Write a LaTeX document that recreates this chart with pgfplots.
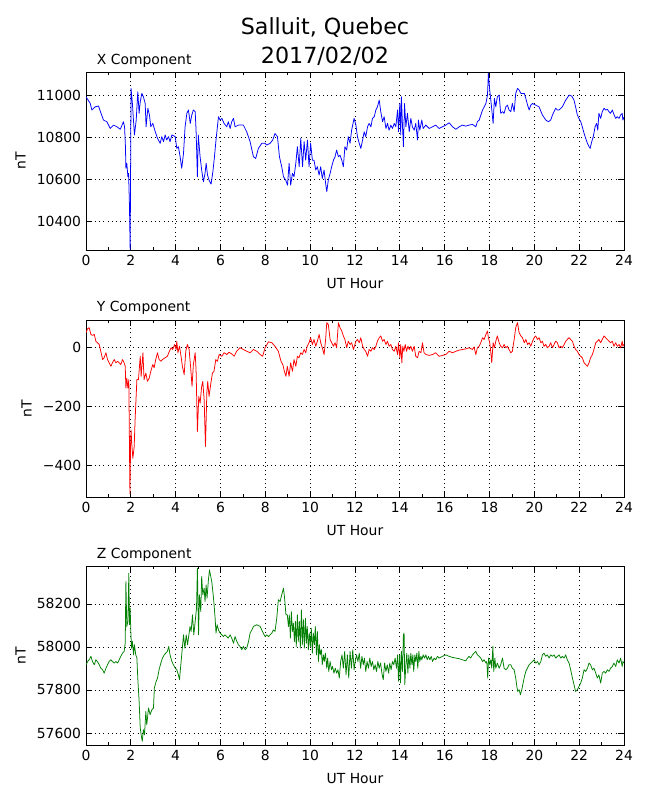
\documentclass[border=0pt]{standalone}
\usepackage{fontspec}
\setmainfont{DejaVu Sans}
\usepackage{pgfplots}
\pgfplotsset{compat=1.18}
\definecolor{mplgreen}{RGB}{0,128,0}
\pgfplotsset{
  magstyle/.style={
    scale only axis,
    width=387.36pt,
    anchor=south west,
    xmin=0, xmax=24,
    xtick={0,2,...,24},
    minor x tick num=1,
    major tick length=4.3pt,
    minor tick length=2.2pt,
    tick align=inside,
    tick style={black, line width=0.5pt},
    scaled y ticks=false,
    /pgf/number format/assume math mode=true,
    ticklabel style={font=\fontsize{10}{12}\selectfont},
    label style={font=\fontsize{10}{12}\selectfont},
    xlabel={UT Hour},
    ylabel={nT},
    ymajorgrids, xmajorgrids,
    major grid style={black, line width=0.5pt, dash pattern=on 0.7pt off 2.4pt},
    axis line style={black, line width=0.7pt},
    every axis plot/.append style={line width=0.55pt, line join=round, no markers},
    xlabel style={yshift=-2.5pt},
    ylabel style={yshift=1.2pt},
  }
}
\begin{document}
\begin{tikzpicture}
\path[use as bounding box] (0,0) rectangle (468pt,576pt);
\node[anchor=base, font=\fontsize{16}{19}\selectfont] at (234pt,551pt) {Salluit, Quebec};
\node[anchor=base, font=\fontsize{16}{19}\selectfont] at (234pt,530.5pt) {2017/02/02};

% ---------------- X component
\begin{axis}[magstyle, at={(61.92pt,396pt)}, height=128.16pt,
  ymin=10262, ymax=11110,
  ytick={10400,10600,10800,11000},
  yticklabels={10400,10600,10800,11000}]
\addplot[blue] coordinates {
(0.00,10992)(0.19,10960)(0.26,10929)(0.41,10944)(0.56,10948)(0.63,10925)(0.78,10881)(0.93,10873)
(1.08,10841)(1.23,10857)(1.38,10849)(1.53,10837)(1.67,10873)(1.72,10849)(1.76,10754)(1.78,10651)
(1.82,10675)(1.87,10611)(1.90,10627)(1.94,10468)(1.97,10265)(2.01,11032)(2.07,10960)(2.16,10810)
(2.24,10881)(2.31,11016)(2.37,10913)(2.42,10968)(2.49,11008)(2.56,10992)(2.64,10960)(2.68,10849)
(2.76,10937)(2.83,10905)(2.89,10849)(2.98,10865)(3.09,10825)(3.19,10794)(3.31,10770)(3.38,10802)
(3.46,10778)(3.53,10810)(3.60,10786)(3.68,10802)(3.75,10778)(3.83,10810)(3.98,10802)(4.05,10746)
(4.12,10754)(4.20,10706)(4.27,10651)(4.35,10722)(4.42,10849)(4.50,10913)(4.57,10929)(4.65,10865)
(4.72,10905)(4.79,10929)(4.87,10921)(4.91,10833)(4.97,10611)(5.01,10810)(5.09,10706)(5.16,10643)
(5.24,10587)(5.31,10627)(5.36,10675)(5.42,10619)(5.49,10595)(5.58,10576)(5.66,10635)(5.73,10706)
(5.80,10786)(5.91,10897)(5.98,10881)(6.06,10889)(6.16,10865)(6.28,10849)(6.35,10873)(6.43,10841)
(6.50,10873)(6.58,10889)(6.65,10849)(6.80,10857)(7.02,10857)(7.17,10825)(7.32,10778)(7.47,10706)
(7.57,10698)(7.69,10746)(7.84,10770)(7.99,10770)(8.06,10762)(8.21,10770)(8.33,10786)(8.43,10817)
(8.54,10802)(8.63,10706)(8.73,10659)(8.81,10611)(8.91,10595)(8.99,10571)(9.06,10675)(9.13,10571)
(9.21,10627)(9.28,10611)(9.36,10675)(9.43,10754)(9.51,10659)(9.58,10794)(9.66,10659)(9.73,10778)
(9.80,10690)(9.88,10786)(9.95,10659)(10.02,10770)(10.10,10690)(10.17,10690)(10.25,10643)(10.32,10659)
(10.40,10619)(10.47,10659)(10.54,10603)(10.62,10643)(10.69,10579)(10.74,10540)(10.81,10595)(10.89,10627)
(10.96,10659)(11.04,10690)(11.11,10706)(11.18,10738)(11.26,10706)(11.33,10714)(11.41,10690)(11.48,10659)
(11.55,10754)(11.63,10738)(11.70,10802)(11.78,10770)(11.85,10833)(11.96,10889)
(12.04,10857)(12.11,10802)(12.19,10770)(12.26,10746)(12.34,10786)(12.41,10825)(12.48,10802)(12.56,10849)
(12.63,10865)(12.71,10849)(12.78,10889)(12.86,10897)(12.93,10929)(13.00,10944)(13.08,10976)(13.15,10921)
(13.23,10873)(13.30,10897)(13.38,10841)(13.45,10865)(13.52,10833)(13.60,10857)(13.67,10841)(13.75,10865)
(13.82,10849)(13.90,10929)(13.94,10825)(14.00,10960)(14.04,10810)(14.07,10992)(14.12,10849)(14.16,10754)
(14.21,10960)(14.27,10849)(14.34,10913)(14.42,10825)(14.49,10889)(14.56,10849)(14.64,10833)(14.71,10865)
(14.79,10786)(14.83,10881)(14.89,10833)(14.98,10881)(15.04,10841)(15.16,10857)(15.31,10841)(15.46,10849)
(15.60,10857)(15.75,10841)(15.90,10849)(16.05,10857)(16.20,10868)(16.35,10849)(16.50,10837)(16.65,10849)
(16.79,10857)(16.94,10852)(17.09,10857)(17.24,10860)(17.39,10849)(17.46,10873)(17.54,10881)(17.69,10929)
(17.84,10960)(17.91,11000)(17.95,11103)(18.01,11024)(18.09,10944)(18.16,10865)(18.22,10984)(18.28,10944)
(18.35,10992)(18.43,11000)(18.50,10913)(18.58,10921)(18.65,10913)(18.73,10944)(18.80,10952)(18.87,10929)
(18.95,10921)(19.02,10960)(19.10,10921)(19.17,11008)(19.25,11032)(19.32,11024)(19.40,11008)(19.47,11008)
(19.55,11008)(19.62,10984)(19.70,10952)(19.77,10929)(19.84,10952)(19.92,10960)(20.06,10952)(20.21,10944)
(20.36,10905)(20.51,10881)(20.63,10873)(20.73,10881)(20.81,10905)(20.95,10937)(21.03,10929)(21.10,10929)
(21.25,10944)(21.40,10976)(21.55,11000)(21.67,10995)(21.77,10976)(21.84,10944)(21.92,10905)(21.99,10889)
(22.07,10873)(22.14,10849)(22.22,10817)(22.29,10794)(22.37,10770)(22.44,10754)(22.49,10746)(22.56,10778)
(22.63,10802)(22.71,10849)(22.78,10865)(22.83,10833)(22.88,10913)(22.96,10889)(23.03,10921)(23.11,10937)
(23.18,10929)(23.26,10932)(23.33,10921)(23.40,10913)(23.48,10929)(23.56,10905)(23.63,10889)(23.70,10897)
(23.78,10889)(23.85,10905)(23.92,10913)(23.95,10881)(24.00,10895)
};
\end{axis}
\node[anchor=base west, font=\fontsize{10}{12}\selectfont] at (66.24pt,529.2pt) {X Component};

% ---------------- Y component
\begin{axis}[magstyle, at={(61.92pt,218.16pt)}, height=127.44pt,
  ymin=-508, ymax=92,
  ytick={-400,-200,0},
  yticklabels={−400,−200,0}]
\addplot[red] coordinates {
(0.00,49)(0.07,62)(0.14,66)(0.22,43)(0.29,40)(0.37,43)(0.44,20)(0.51,15)(0.59,9)(0.66,-14)
(0.74,-42)(0.81,-36)(0.89,-19)(0.96,-42)(1.03,-53)(1.11,-65)(1.18,-53)(1.26,-42)(1.33,-53)(1.41,-48)
(1.48,-53)(1.55,-59)(1.63,-42)(1.70,-53)(1.75,-65)(1.78,-139)(1.82,-105)(1.87,-139)(1.91,-110)(1.96,-497)
(1.99,-326)(2.01,-281)(2.04,-326)(2.09,-377)(2.15,-337)(2.19,-247)(2.27,-110)(2.34,-110)(2.42,-31)(2.46,-99)
(2.54,-19)(2.59,-110)(2.67,-88)(2.74,-116)(2.82,-105)(2.89,-82)(2.98,-59)(3.04,-70)(3.11,-42)(3.19,-19)
(3.26,-42)(3.34,-48)(3.41,-42)(3.53,-36)(3.63,-31)(3.72,-14)(3.80,-2)(3.87,-8)(3.95,9)(4.02,-8)
(4.05,20)(4.10,-19)(4.17,3)(4.24,-31)(4.30,-65)(4.38,-93)(4.45,-14)(4.52,9)(4.60,-8)(4.67,-70)
(4.73,-133)(4.79,-59)(4.87,-19)(4.91,-76)(4.97,-286)(5.03,-167)(5.09,-190)(5.16,-133)(5.21,-116)(5.27,-178)
(5.33,-337)(5.39,-156)(5.43,-116)(5.49,-167)(5.57,-122)(5.64,-88)(5.71,-82)(5.79,-42)(5.86,-48)(5.94,-25)
(6.06,-31)(6.16,-19)(6.28,-25)(6.38,-17)(6.50,-23)(6.61,-31)(6.72,-14)(6.87,-2)(7.02,-8)(7.17,-14)
(7.32,-19)(7.47,-8)(7.62,-14)(7.77,-25)(7.88,-31)(7.99,-2)(8.14,18)(8.29,15)(8.43,3)(8.58,-14)
(8.70,-48)(8.78,-59)(8.85,-82)(8.92,-99)(8.98,-65)(9.06,-99)(9.13,-53)(9.21,-82)(9.28,-42)(9.36,-65)
(9.43,-31)(9.50,-36)(9.58,-19)(9.65,-25)(9.73,-8)(9.80,-19)(9.87,3)(9.95,15)(10.02,32)(10.10,9)
(10.17,26)(10.25,3)(10.32,20)(10.40,43)(10.47,15)(10.54,-2)(10.62,-25)(10.69,26)(10.74,83)(10.81,77)
(10.89,26)(10.96,15)(11.04,3)(11.11,15)(11.18,-2)(11.26,83)(11.33,66)(11.41,55)(11.48,38)(11.55,26)
(11.63,-2)(11.70,20)(11.78,9)(11.85,15)(11.93,-8)
(12.04,20)(12.11,26)(12.19,15)(12.26,32)(12.34,3)(12.41,-8)(12.48,-14)(12.56,-31)(12.63,-8)(12.71,-14)
(12.78,-2)(12.86,-8)(12.93,3)(13.00,20)(13.08,32)(13.15,38)(13.23,20)(13.30,26)(13.38,9)(13.45,20)
(13.52,3)(13.60,9)(13.67,-8)(13.75,-14)(13.82,3)(13.90,-25)(13.94,15)(14.00,-36)(14.04,9)(14.09,-53)
(14.13,3)(14.18,-14)(14.24,9)(14.30,-14)(14.36,3)(14.42,-8)(14.49,3)(14.56,-14)(14.64,3)(14.71,-31)
(14.79,-36)(14.86,-14)(14.94,-19)(15.01,15)(15.08,-19)(15.16,-25)(15.31,-28)(15.46,-25)(15.60,-19)(15.75,-31)
(15.90,-28)(16.05,-25)(16.20,-14)(16.35,-19)(16.50,-14)(16.65,-10)(16.79,-8)(16.94,-6)(17.09,-2)(17.24,-8)
(17.31,1)(17.39,-25)(17.46,-2)(17.54,3)(17.61,15)(17.69,32)(17.76,26)(17.84,43)(17.91,55)(17.95,32)
(18.01,15)(18.06,-19)(18.10,-53)(18.16,15)(18.22,-2)(18.28,20)(18.35,38)(18.43,15)(18.50,3)(18.58,-2)
(18.65,9)(18.73,-2)(18.80,3)(18.87,-8)(18.95,-19)(19.02,-14)(19.10,26)(19.17,66)(19.25,83)(19.32,49)
(19.40,38)(19.47,32)(19.55,15)(19.62,26)(19.70,9)(19.77,15)(19.84,3)(19.92,20)(19.99,32)(20.06,38)
(20.14,26)(20.21,32)(20.29,15)(20.36,20)(20.43,3)(20.51,9)(20.58,-2)(20.66,3)(20.73,15)(20.81,-2)
(20.88,9)(20.95,20)(21.03,15)(21.10,-2)(21.18,3)(21.25,-2)(21.33,9)(21.40,20)(21.47,26)(21.55,32)
(21.62,26)(21.70,20)(21.77,3)(21.84,-8)(21.92,-14)(21.99,-25)(22.07,-31)(22.14,-36)(22.22,-53)(22.29,-59)
(22.37,-65)(22.44,-53)(22.51,-36)(22.59,-25)(22.66,-8)(22.74,15)(22.81,20)(22.88,26)(22.96,15)(23.03,26)
(23.11,38)(23.18,32)(23.26,26)(23.33,20)(23.40,15)(23.48,20)(23.55,3)(23.63,15)(23.70,3)(23.78,9)
(23.85,-2)(23.92,20)(23.95,3)(24.00,10)
};
\end{axis}
\node[anchor=base west, font=\fontsize{10}{12}\selectfont] at (66.24pt,351.36pt) {Y Component};

% ---------------- Z component
\begin{axis}[magstyle, at={(61.92pt,39.6pt)}, height=128.88pt,
  ymin=57544, ymax=58376,
  ytick={57600,57800,58000,58200},
  yticklabels={57600,57800,58000,58200}]
\addplot[mplgreen] coordinates {
(0.00,57917)(0.07,57932)(0.14,57940)(0.22,57956)(0.29,57932)(0.37,57917)(0.44,57940)(0.51,57932)(0.59,57917)(0.66,57901)
(0.74,57894)(0.81,57878)(0.89,57901)(0.96,57917)(1.03,57932)(1.11,57940)(1.18,57932)(1.26,57925)(1.33,57932)(1.41,57925)
(1.48,57940)(1.55,57956)(1.63,57971)(1.70,57979)(1.75,58017)(1.78,58304)(1.82,58095)(1.87,58118)(1.91,58342)(1.94,58103)
(1.97,58180)(2.00,58072)(2.03,57994)(2.07,58025)(2.12,57963)(2.16,58010)(2.22,57963)(2.27,57948)(2.31,57855)(2.37,57747)
(2.42,57623)(2.46,57592)(2.51,57561)(2.56,57615)(2.61,57592)(2.67,57700)(2.71,57638)(2.79,57716)(2.86,57685)(2.94,57708)
(3.01,57716)(3.05,57809)(3.13,57840)(3.19,57855)(3.26,57894)(3.34,57925)(3.41,57948)(3.49,57963)(3.56,57971)(3.63,57979)
(3.69,58002)(3.75,57963)(3.83,57932)(3.90,57917)(3.98,57901)(4.05,57894)(4.12,57870)(4.17,57847)(4.23,57917)(4.27,57963)
(4.35,58056)(4.41,57994)(4.47,58056)(4.53,58010)(4.59,58056)(4.64,58095)(4.69,58072)(4.75,58149)(4.81,58056)(4.87,58118)
(4.93,58180)(4.97,58366)(5.02,58056)(5.06,58242)(5.12,58164)(5.16,58327)(5.21,58242)(5.27,58273)(5.31,58211)(5.36,58288)
(5.40,58226)(5.46,58311)(5.51,58358)(5.55,58335)(5.61,58304)(5.69,58226)(5.76,58133)(5.80,58064)(5.85,58103)(5.91,58079)
(5.98,58064)(6.06,58056)(6.13,58048)(6.20,58056)(6.28,58048)(6.35,58041)(6.43,58056)(6.50,58041)(6.58,58017)(6.65,58048)
(6.73,58025)(6.80,58010)(6.87,58002)(6.95,57987)(7.02,58002)(7.10,57987)(7.17,57994)(7.25,58025)(7.32,58064)(7.40,58079)
(7.47,58095)(7.62,58103)(7.77,58095)(7.84,58079)(7.91,58064)(7.99,58048)(8.06,58056)(8.14,58048)(8.21,58056)(8.29,58064)
(8.36,58079)(8.43,58072)(8.51,58133)(8.58,58219)(8.66,58211)(8.73,58242)(8.81,58273)(8.86,58226)(8.92,58149)(8.98,58149)
(9.03,58095)(9.07,58149)(9.12,58041)(9.16,58164)(9.21,58072)(9.25,58110)(9.30,58025)(9.34,58118)(9.38,58002)(9.43,58149)
(9.47,58025)(9.52,58118)(9.56,57994)(9.61,58172)(9.65,58010)(9.70,58126)(9.74,57994)(9.79,58133)(9.83,58017)(9.87,58095)
(9.92,57987)(9.96,58064)(10.01,58002)(10.05,58087)(10.10,57971)(10.14,58064)(10.19,58010)(10.23,58095)(10.28,57963)(10.32,58072)
(10.37,57932)(10.41,58010)(10.45,57963)(10.50,57987)(10.54,57917)(10.59,57963)(10.63,57932)(10.68,57971)(10.74,57901)(10.78,57948)
(10.83,57886)(10.89,57932)(10.95,57894)(11.00,57909)(11.06,57878)(11.12,57901)(11.18,57878)(11.24,57894)(11.30,57855)(11.36,57932)
(11.42,57963)(11.48,57901)(11.54,57979)(11.60,57870)(11.66,57963)(11.72,57855)(11.78,57979)(11.84,57901)(11.90,57987)(11.96,57894)
(12.01,57932)(12.07,57963)(12.13,57932)(12.19,57971)(12.25,57901)(12.31,57956)(12.37,57917)(12.42,57948)(12.48,57886)(12.54,57932)
(12.60,57901)(12.66,57948)(12.72,57909)(12.78,57932)(12.84,57894)(12.90,57917)(12.96,57886)(13.02,57932)(13.08,57901)(13.14,57925)
(13.20,57878)(13.26,57847)(13.32,57925)(13.38,57886)(13.44,57917)(13.50,57878)(13.55,57925)(13.61,57894)(13.67,57932)(13.73,57917)
(13.79,57948)(13.85,57901)(13.90,57963)(13.94,57840)(13.99,57963)(14.03,57832)(14.07,57979)(14.12,57886)(14.16,58056)(14.19,58064)
(14.22,57824)(14.27,57917)(14.31,57971)(14.36,57878)(14.40,57963)(14.45,57901)(14.49,57971)(14.54,57917)(14.58,57963)(14.62,57886)
(14.67,57963)(14.71,57932)(14.76,57971)(14.80,57901)(14.85,57979)(14.89,57932)(14.94,57956)(14.98,57940)(15.04,57963)(15.10,57948)
(15.16,57963)(15.22,57940)(15.28,57956)(15.34,57940)(15.40,57956)(15.46,57932)(15.53,57948)(15.60,57940)(15.68,57956)(15.75,57948)
(15.90,57956)(16.05,57963)(16.20,57956)(16.35,57951)(16.50,57948)(16.65,57945)(16.79,57940)(16.94,57935)(17.02,57948)(17.09,57956)
(17.16,57948)(17.24,57963)(17.31,57971)(17.39,57979)(17.46,57963)(17.54,57956)(17.61,57948)(17.69,57932)(17.76,57940)(17.84,57925)
(17.88,57932)(17.92,57855)(17.96,57948)(18.01,57917)(18.06,57940)(18.10,57901)(18.15,58002)(18.19,57886)(18.24,57948)(18.28,57901)
(18.35,57925)(18.43,57901)(18.50,57917)(18.58,57948)(18.65,57901)(18.73,57894)(18.80,57901)(18.87,57917)(18.95,57917)(19.02,57901)
(19.10,57894)(19.17,57855)(19.22,57816)(19.26,57793)(19.32,57801)(19.38,57778)(19.44,57801)(19.50,57832)(19.56,57863)(19.62,57886)
(19.69,57901)(19.77,57917)(19.84,57925)(19.92,57932)(19.99,57940)(20.06,57925)(20.14,57932)(20.21,57917)(20.29,57932)(20.36,57963)
(20.43,57971)(20.51,57956)(20.58,57963)(20.66,57948)(20.73,57963)(20.81,57956)(20.88,57963)(20.95,57948)(21.03,57956)(21.10,57963)
(21.18,57948)(21.25,57956)(21.33,57948)(21.40,57963)(21.47,57940)(21.55,57925)(21.62,57894)(21.70,57855)(21.77,57824)(21.84,57793)
(21.92,57801)(21.99,57816)(22.07,57832)(22.14,57855)(22.22,57894)(22.29,57886)(22.37,57901)(22.44,57925)(22.51,57917)(22.59,57894)
(22.66,57901)(22.74,57878)(22.81,57855)(22.88,57870)(22.96,57832)(23.03,57878)(23.11,57886)(23.18,57878)(23.26,57894)(23.33,57886)
(23.40,57901)(23.48,57909)(23.55,57925)(23.63,57909)(23.70,57940)(23.78,57925)(23.85,57948)(23.92,57909)(23.95,57932)(24.00,57925)
};
\end{axis}
\node[anchor=base west, font=\fontsize{10}{12}\selectfont] at (66.24pt,173.52pt) {Z Component};
\end{tikzpicture}
\end{document}
